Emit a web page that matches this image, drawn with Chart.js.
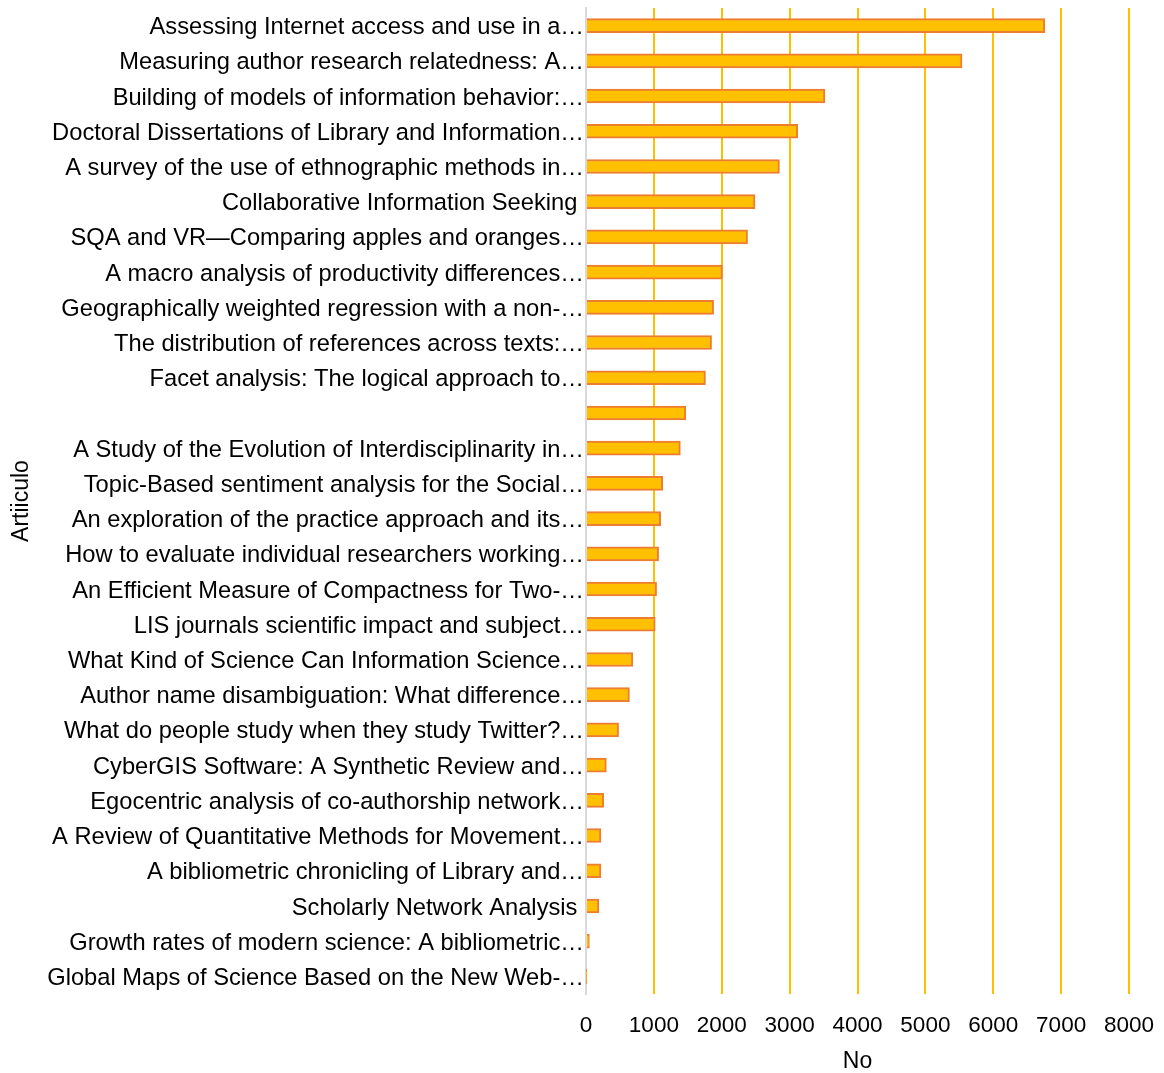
<!DOCTYPE html>
<html>
<head>
<meta charset="utf-8">
<script src="https://cdn.jsdelivr.net/npm/chart.js@4.4.1/dist/chart.umd.min.js"></script>
<style>
  html, body { margin: 0; padding: 0; background: #fff; }
  #wrap { width: 1164px; height: 1073px; }
</style>
</head>
<body>
<div id="wrap"><canvas id="chart"></canvas></div>
<script>
// articles (already cut by the source tool, keep the ellipsis)
const articles = [
  'Assessing Internet access and use in a…',
  'Measuring author research relatedness: A…',
  'Building of models of information behavior:…',
  'Doctoral Dissertations of Library and Information…',
  'A survey of the use of ethnographic methods in…',
  'Collaborative Information Seeking ',
  'SQA and VR\u2014Comparing apples and oranges…',
  'A macro analysis of productivity differences…',
  'Geographically weighted regression with a non-…',
  'The distribution of references across texts:…',
  'Facet analysis: The logical approach to…',
  '',
  'A Study of the Evolution of Interdisciplinarity in…',
  'Topic-Based sentiment analysis for the Social…',
  'An exploration of the practice approach and its…',
  'How to evaluate individual researchers working…',
  'An Efficient Measure of Compactness for Two-…',
  'LIS journals scientific impact and subject…',
  'What Kind of Science Can Information Science…',
  'Author name disambiguation: What difference…',
  'What do people study when they study Twitter?…',
  'CyberGIS Software: A Synthetic Review and…',
  'Egocentric analysis of co-authorship network…',
  'A Review of Quantitative Methods for Movement…',
  'A bibliometric chronicling of Library and…',
  'Scholarly Network Analysis ',
  'Growth rates of modern science: A bibliometric…',
  'Global Maps of Science Based on the New Web-…'
];

const counts = [
  6760, 5540, 3520, 3120, 2850, 2490, 2380, 2010, 1880, 1850,
  1760, 1470, 1390, 1130, 1100, 1070, 1040, 1020, 690, 640,
  480, 300, 260, 220, 220, 190, 50, 5
];

const xTicks = [0, 1000, 2000, 3000, 4000, 5000, 6000, 7000, 8000];

const gold = '#FFC000';
const orange = '#ED7D31';
const fontFamily = '"Liberation Sans", Arial, sans-serif';

const chart = new Chart(document.getElementById('chart'), {
  type: 'bar',
  data: {
    labels: articles,
    datasets: [{
      label: 'No',
      data: counts,
      backgroundColor: gold,
      borderColor: orange,
      borderWidth: 2,
      borderSkipped: 'left',
      barThickness: 14,
    }],
  },
  options: {
    indexAxis: 'y',
    responsive: true,
    maintainAspectRatio: false,
    animation: false,
    layout: { padding: { top: 8, right: 35, left: 8, bottom: 0 } },
    plugins: {
      legend: { display: false },
      tooltip: { enabled: false },
    },
    scales: {
      x: {
        min: 0,
        max: 8000,
        afterBuildTicks(scale) {
          scale.ticks = xTicks.map((v) => ({ value: v }));
        },
        afterFit(scale) {
          scale.height = 79;
          scale.paddingLeft = 0;
          scale.paddingRight = 0;
        },
        grid: {
          color: (ctx) => (ctx.index === 0 ? 'rgba(0,0,0,0)' : gold),
          lineWidth: 2,
          drawTicks: false,
        },
        border: { display: false },
        ticks: {
          color: '#000',
          padding: 18,
          callback: (v) => String(v),
          font: { family: fontFamily, size: 22.5 },
        },
        title: {
          display: true,
          text: 'No',
          color: '#000',
          padding: { top: 0, bottom: -2 },
          font: { family: fontFamily, size: 23 },
        },
      },
      y: {
        afterFit(scale) {
          scale.width = 578;
          scale.paddingTop = 0;
          scale.paddingBottom = 0;
        },
        grid: { display: false, drawTicks: false },
        border: { display: true, color: '#D9D9D9', width: 2 },
        ticks: {
          color: '#000',
          padding: 2,
          labelOffset: 2,
          autoSkip: false,
          font: { family: fontFamily, size: 23.7 },
        },
        title: {
          display: true,
          text: 'Artiiculo',
          color: '#000',
          padding: { top: 0, bottom: 0 },
          font: { family: fontFamily, size: 23 },
        },
      },
    },
  },
});
</script>
</body>
</html>
